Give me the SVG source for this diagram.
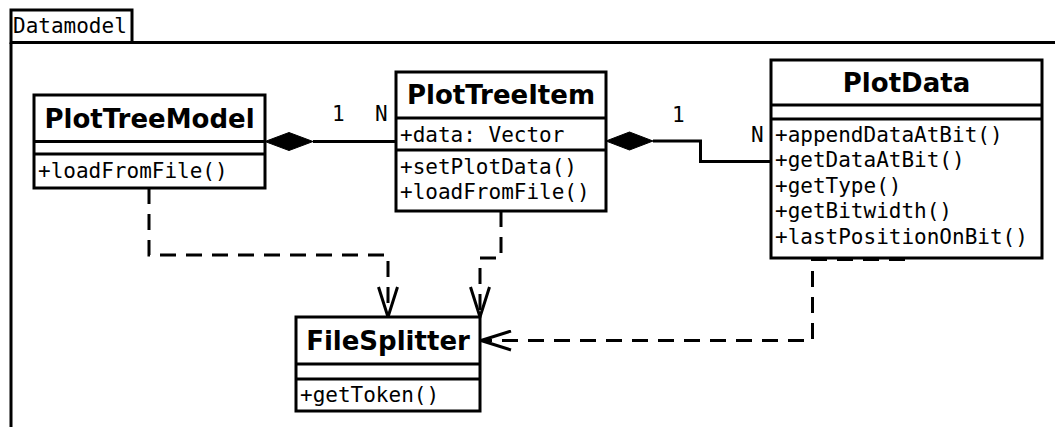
<svg xmlns="http://www.w3.org/2000/svg" width="1055" height="427" viewBox="0 0 1055 427">
  <style>
    .box { fill: #fff; stroke: #000; stroke-width: 3; }
    .div { stroke: #000; stroke-width: 3; fill: none; }
    .name { font-family: "DejaVu Sans", "Liberation Sans", sans-serif; font-weight: bold; font-size: 26px; text-anchor: middle; fill: #000; }
    .mono { font-family: "DejaVu Sans Mono", "Liberation Mono", monospace; font-size: 21px; fill: #000; }
    .frame { fill: none; stroke: #000; stroke-width: 3; }
    .assoc { fill: none; stroke: #000; stroke-width: 3; }
    .diamond { fill: #000; stroke: #000; stroke-width: 1; }
    .dep { fill: none; stroke: #000; stroke-width: 3; stroke-dasharray: 16 10; marker-end: url(#open); }
  </style>
  <defs>
    <marker id="open" viewBox="0 0 34 22" refX="32" refY="11" markerWidth="34" markerHeight="22" orient="auto" markerUnits="userSpaceOnUse">
      <path d="M2,1.5 L32,11 L2,20.5" fill="none" stroke="#000" stroke-width="3" stroke-dasharray="none"/>
    </marker>
  </defs>

  <rect width="1055" height="427" fill="#fff"/>

  <!-- package frame -->
  <g id="package-datamodel">
    <rect class="frame" x="11" y="10" width="121" height="32.5" fill="#fff"/>
    <path class="frame" d="M11,42.5 H1055 M11,42.5 V427"/>
    <text class="mono" x="13" y="33">Datamodel</text>
  </g>

  <!-- connectors -->
  <g id="connectors">
    <!-- PlotTreeModel 1 <>— N PlotTreeItem -->
    <path class="assoc" d="M313,141.5 H396"/>
    <polygon class="diamond" points="265,141.5 289,132.5 313,141.5 289,150.5"/>
    <text class="mono" x="332" y="121">1</text>
    <text class="mono" x="375" y="121">N</text>

    <!-- PlotTreeItem 1 <>— N PlotData -->
    <path class="assoc" d="M653,141 H700.5 V161.5 H771"/>
    <polygon class="diamond" points="606,141 629.5,132 653,141 629.5,150"/>
    <text class="mono" x="672" y="121.5">1</text>
    <text class="mono" x="751" y="141.5">N</text>

    <!-- dependencies on FileSplitter -->
    <path class="dep" d="M149,188 V255 H388 V317"/>
    <path class="dep" d="M501,211 V258 H480 V317"/>
    <path class="dep" d="M905,259.5 H812.5 V340.5 H481"/>
  </g>

  <g id="PlotTreeModel">
    <rect class="box" x="34" y="95" width="231" height="93"/>
    <path class="div" d="M34,141.5 H265 M34,154 H265"/>
    <text class="name" x="149.5" y="128">PlotTreeModel</text>
    <text class="mono" x="38" y="178">+loadFromFile()</text>
  </g>

  <g id="PlotTreeItem">
    <rect class="box" x="396" y="72" width="210" height="139"/>
    <path class="div" d="M396,118 H606 M396,150 H606"/>
    <text class="name" x="501" y="103.5">PlotTreeItem</text>
    <text class="mono" x="400" y="141.5">+data: Vector</text>
    <text class="mono" x="400" y="173.5">+setPlotData()</text>
    <text class="mono" x="400" y="199">+loadFromFile()</text>
  </g>

  <g id="PlotData">
    <rect class="box" x="771" y="60" width="271" height="198"/>
    <path class="div" d="M771,105 H1042 M771,119 H1042"/>
    <text class="name" x="906.5" y="92">PlotData</text>
    <text class="mono" x="775" y="141.5">+appendDataAtBit()</text>
    <text class="mono" x="775" y="167">+getDataAtBit()</text>
    <text class="mono" x="775" y="192.5">+getType()</text>
    <text class="mono" x="775" y="218">+getBitwidth()</text>
    <text class="mono" x="775" y="243.5">+lastPositionOnBit()</text>
  </g>

  <g id="FileSplitter">
    <rect class="box" x="296" y="317" width="184" height="94"/>
    <path class="div" d="M296,364 H480 M296,379 H480"/>
    <text class="name" x="388" y="350">FileSplitter</text>
    <text class="mono" x="300" y="402">+getToken()</text>
  </g>
</svg>
